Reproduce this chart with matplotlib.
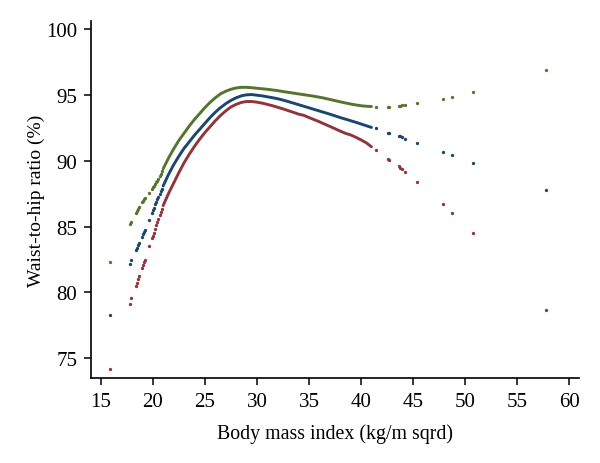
import matplotlib
matplotlib.use("Agg")
import matplotlib.pyplot as plt

plt.rcParams['font.family'] = ['Liberation Serif', 'DejaVu Serif']

# Stata s2color palette
c_fit = '#1a476f'    # navy
c_low = '#90353b'    # maroon
c_high = '#55752f'   # forest green

# dense part of the fit (BMI 21-41)
bmi_dense = [21.0, 21.5, 22.0, 22.5, 23.0, 23.5, 24.0, 24.5, 25.0, 25.5,
             26.0, 26.5, 27.0, 27.5, 28.0, 28.5, 29.0, 29.5, 30.0, 30.5,
             31.0, 31.5, 32.0, 32.5, 33.0, 33.5, 34.0, 34.5, 35.0, 35.5,
             36.0, 36.5, 37.0, 37.5, 38.0, 38.5, 39.0, 39.5, 40.0, 40.5, 41.0]
fit_dense = [88.1, 88.95, 89.7, 90.35, 90.95, 91.45, 91.95, 92.4, 92.85, 93.3,
             93.7, 94.05, 94.35, 94.6, 94.8, 94.95, 95.03, 95.05, 95.0, 94.95,
             94.88, 94.81, 94.73, 94.63, 94.52, 94.4, 94.28, 94.16, 94.04, 93.92,
             93.8, 93.68, 93.56, 93.43, 93.3, 93.18, 93.06, 92.94, 92.81, 92.68, 92.55]
high_dense = [89.4, 90.2, 90.9, 91.55, 92.1, 92.65, 93.15, 93.6, 94.05, 94.45,
              94.8, 95.1, 95.3, 95.45, 95.55, 95.6, 95.6, 95.57, 95.53, 95.49,
              95.45, 95.4, 95.35, 95.28, 95.22, 95.16, 95.1, 95.04, 94.98, 94.92,
              94.85, 94.77, 94.68, 94.59, 94.5, 94.41, 94.33, 94.26, 94.2, 94.16, 94.14]
low_dense = [86.6, 87.5, 88.3, 89.1, 89.85, 90.5, 91.1, 91.65, 92.15, 92.6,
             93.05, 93.45, 93.8, 94.1, 94.3, 94.45, 94.52, 94.52, 94.47, 94.4,
             94.3, 94.2, 94.08, 93.96, 93.83, 93.7, 93.56, 93.47, 93.3, 93.14,
             92.98, 92.8, 92.63, 92.45, 92.27, 92.1, 91.98, 91.8, 91.6, 91.38, 91.08]

# isolated observations (low and high BMI)
bmi_sparse = [15.85, 17.83, 17.93, 18.35, 18.45, 18.55, 18.65, 18.95, 19.05, 19.15,
              19.25, 19.6, 19.9, 20.0, 20.1, 20.25, 20.35, 20.45, 20.55, 20.7,
              20.8, 20.9,
              41.41, 42.55, 42.7, 43.6, 43.75, 43.9, 44.26, 45.41, 47.88, 48.74,
              50.78, 57.76]
fit_sparse = [78.25, 82.13, 82.44, 83.2, 83.4, 83.58, 83.75, 84.25, 84.42, 84.6,
              84.78, 85.5, 86.05, 86.25, 86.45, 86.72, 86.9, 87.08, 87.25, 87.5,
              87.7, 87.9,
              92.49, 92.15, 92.1, 91.9, 91.86, 91.8, 91.68, 91.39, 90.71, 90.46,
              89.87, 87.79]
high_sparse = [82.28, 85.18, 85.38, 86.05, 86.2, 86.35, 86.48, 86.85, 86.97, 87.08,
               87.2, 87.55, 87.87, 87.98, 88.1, 88.25, 88.38, 88.5, 88.63, 88.85,
               89.02, 89.2,
               94.14, 94.14, 94.14, 94.2, 94.2, 94.22, 94.27, 94.39, 94.7, 94.85,
               95.23, 96.93]
low_sparse = [74.14, 79.11, 79.54, 80.5, 80.75, 81.0, 81.25, 81.85, 82.1, 82.3,
              82.5, 83.5, 84.1, 84.3, 84.5, 84.85, 85.1, 85.35, 85.55, 85.9,
              86.1, 86.35,
              90.81, 90.18, 90.1, 89.6, 89.5, 89.4, 89.14, 88.42, 86.72, 86.04,
              84.49, 78.68]

fig = plt.figure(figsize=(6, 4.64), dpi=100)
ax = fig.add_axes([0.152, 0.183, 0.813, 0.770])

for y_dense, y_sparse, col in [(fit_dense, fit_sparse, c_fit),
                               (low_dense, low_sparse, c_low),
                               (high_dense, high_sparse, c_high)]:
    ax.plot(bmi_dense, y_dense, color=col, lw=2.1, solid_capstyle='round')
    ax.plot(bmi_sparse, y_sparse, 'o', color=col, ms=2.4, mew=0)

ax.set_xlim(14.09, 60.93)
ax.set_ylim(73.48, 100.66)
ax.set_xticks(range(15, 61, 5))
ax.set_yticks(range(75, 101, 5))

for side in ['top', 'right']:
    ax.spines[side].set_visible(False)
for side in ['left', 'bottom']:
    ax.spines[side].set_linewidth(1.2)
ax.tick_params(direction='out', length=5, width=1.1, labelsize=15, pad=5)

ax.set_xlabel("Body mass index (kg/m sqrd)", fontsize=14.3, labelpad=9)
ax.set_ylabel("Waist-to-hip ratio (%)", fontsize=14, labelpad=1)

plt.savefig("out.png", dpi=100)
